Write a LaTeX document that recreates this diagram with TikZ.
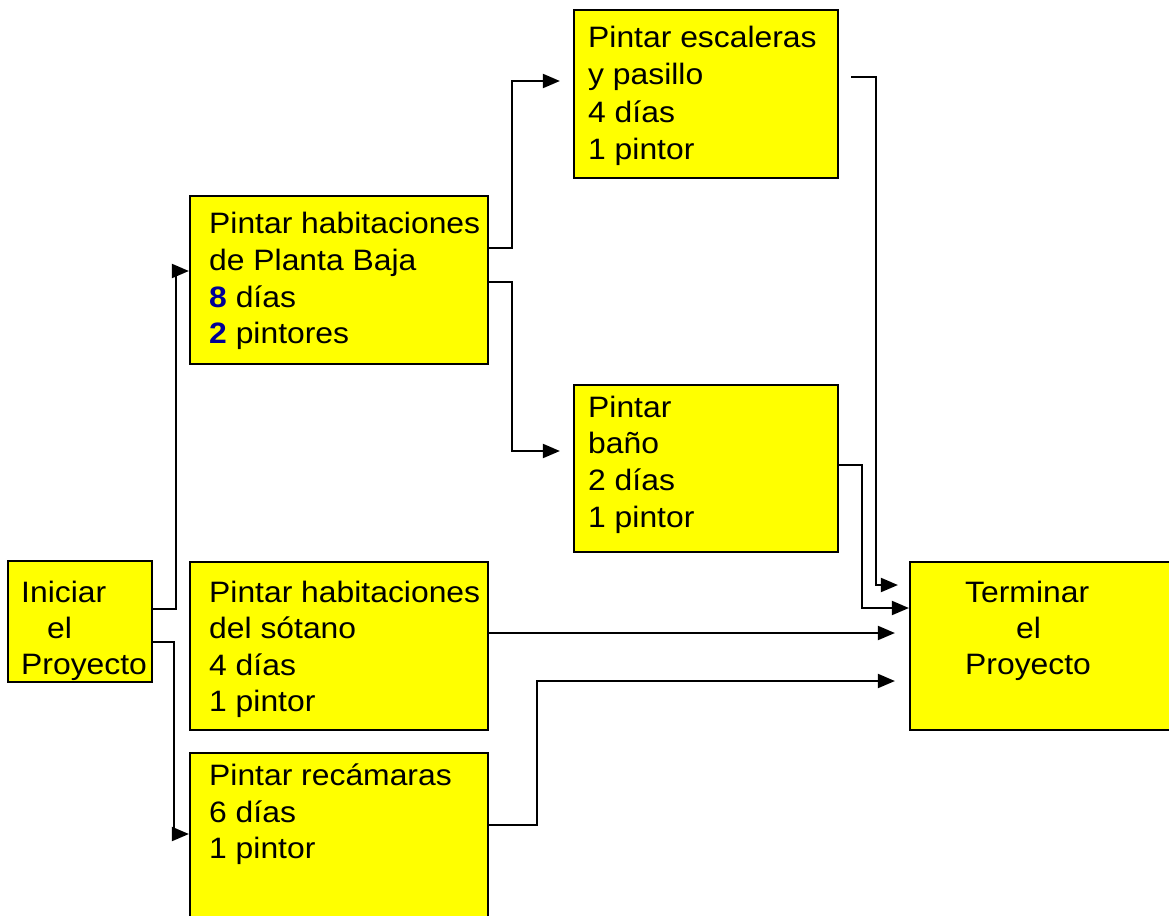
\documentclass[tikz,border=0pt]{standalone}
\usepackage{fontspec}
\setmainfont{Liberation Sans}
\newfontfamily\arw[FakeStretch=1.08]{Liberation Sans}
\usetikzlibrary{arrows.meta}
\definecolor{numblue}{RGB}{0,0,150}
\definecolor{boxyellow}{RGB}{255,255,0}
\tikzset{
  box/.style={draw=black, line width=2.2pt, fill=boxyellow, inner sep=0pt},
  lbl/.style={anchor=base west, inner sep=0pt, font=\arw\fontsize{29.5}{34}\selectfont},
  conn/.style={draw=black, line width=2pt, -{Triangle[length=17pt,width=14pt]}},
}
\newcommand{\bn}[1]{\textcolor{numblue}{\textbf{#1}}}
\begin{document}
\begin{tikzpicture}[x=1pt,y=-1pt]
\useasboundingbox (0,0) rectangle (1169,915);
% boxes
\node[box, minimum width=144pt, minimum height=121pt] (ini) at (80,621.5) {};
\node[box, minimum width=298pt, minimum height=168pt] (pb) at (339,280) {};
\node[box, minimum width=264pt, minimum height=168pt] (esc) at (706,94) {};
\node[box, minimum width=264pt, minimum height=167pt] (ban) at (706,468.5) {};
\node[box, minimum width=298pt, minimum height=168pt] (sot) at (339,646) {};
\node[box, minimum width=298pt, minimum height=172pt] (rec) at (339,839) {};
\node[box, minimum width=270pt, minimum height=168pt] (ter) at (1045,646) {};
% texts
\node[lbl] (ini1) at (21,602) {Iniciar};
\node[lbl] (ini2) at (47,638) {el};
\node[lbl] (ini3) at (21,674) {Proyecto};
\node[lbl] (pb1) at (209,233) {Pintar habitaciones};
\node[lbl] (pb2) at (209,270) {de Planta Baja};
\node[lbl] (pb3) at (209,307) {\bn{8} días};
\node[lbl] (pb4) at (209,343) {\bn{2} pintores};
\node[lbl] (esc1) at (588,48) {Pintar escaleras};
\node[lbl] (esc2) at (588,85) {y pasillo};
\node[lbl] (esc3) at (588,122) {4 días};
\node[lbl] (esc4) at (588,159) {1 pintor};
\node[lbl] (ban1) at (588,417) {Pintar};
\node[lbl] (ban2) at (588,453) {baño};
\node[lbl] (ban3) at (588,490) {2 días};
\node[lbl] (ban4) at (588,527) {1 pintor};
\node[lbl] (sot1) at (209,602) {Pintar habitaciones};
\node[lbl] (sot2) at (209,638) {del sótano};
\node[lbl] (sot3) at (209,675) {4 días};
\node[lbl] (sot4) at (209,711) {1 pintor};
\node[lbl] (rec1) at (209,785) {Pintar recámaras};
\node[lbl] (rec2) at (209,822) {6 días};
\node[lbl] (rec3) at (209,858) {1 pintor};
\node[lbl] (ter1) at (965,602) {Terminar};
\node[lbl] (ter2) at (1016,638) {el};
\node[lbl] (ter3) at (965,674) {Proyecto};
% connectors
\draw[conn] (ini.east |- 0,609) -| (176,271) -- (pb.west |- 0,271);
\draw[conn] (ini.east |- 0,642) -| (174,834) -- (rec.west |- 0,834);
\draw[conn] (pb.east |- 0,248) -| (512,81) -- ([xshift=-13pt]esc.west |- 0,81);
\draw[conn] (pb.east |- 0,282) -| (512,451) -- ([xshift=-13pt]ban.west |- 0,451);
\draw[conn] ([xshift=12pt]esc.east |- 0,77) -| (876,585) -- ([xshift=-11pt]ter.west |- 0,585);
\draw[conn] (ban.east |- 0,465) -| (862,608) -- (ter.west |- 0,608);
\draw[conn] (sot.east |- 0,633) -- ([xshift=-14pt]ter.west |- 0,633);
\draw[conn] (rec.east |- 0,825) -| (537,681) -- ([xshift=-14pt]ter.west |- 0,681);
\end{tikzpicture}
\end{document}
